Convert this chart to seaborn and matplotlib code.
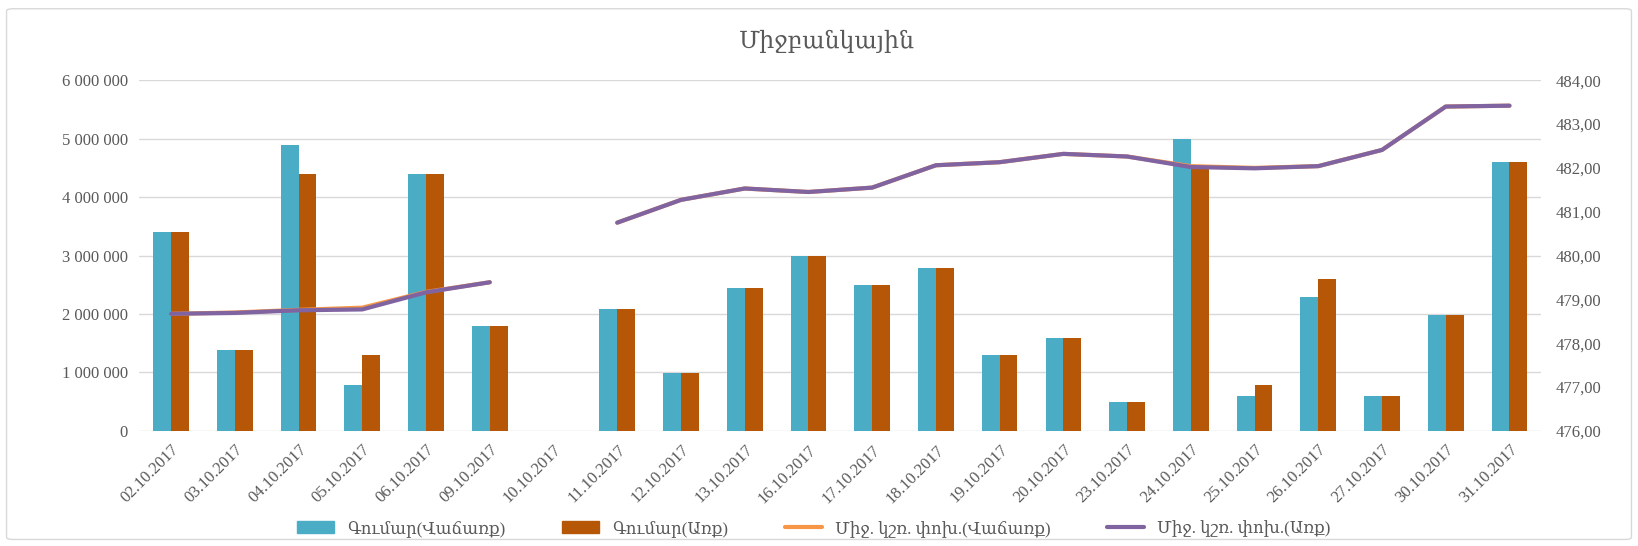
# Միջբանկային - bars (amounts) + lines (weighted avg rate)
import numpy as np
import pandas as pd
import seaborn as sns
import matplotlib.pyplot as plt
from matplotlib.patches import FancyBboxPatch, Patch
from matplotlib.lines import Line2D
from matplotlib.ticker import FuncFormatter

dates = ["02.10.2017", "03.10.2017", "04.10.2017", "05.10.2017", "06.10.2017",
         "09.10.2017", "10.10.2017", "11.10.2017", "12.10.2017", "13.10.2017",
         "16.10.2017", "17.10.2017", "18.10.2017", "19.10.2017", "20.10.2017",
         "23.10.2017", "24.10.2017", "25.10.2017", "26.10.2017", "27.10.2017",
         "30.10.2017", "31.10.2017"]

sum_sell = [3400000, 1390000, 4900000, 790000, 4400000, 1790000, np.nan, 2090000,
            990000, 2440000, 3000000, 2490000, 2790000, 1290000, 1590000, 490000,
            5000000, 590000, 2290000, 590000, 1990000, 4600000]
sum_buy = [3400000, 1390000, 4400000, 1290000, 4400000, 1790000, np.nan, 2090000,
           990000, 2440000, 3000000, 2490000, 2790000, 1290000, 1590000, 490000,
           4500000, 790000, 2590000, 590000, 1990000, 4600000]

rate_sell = [478.67, 478.70, 478.76, 478.81, 479.17, 479.39, np.nan, 480.75,
             481.27, 481.53, 481.45, 481.55, 482.06, 482.13, 482.32, 482.26,
             482.04, 482.00, 482.04, 482.41, 483.40, 483.42]
rate_buy = [478.67, 478.69, 478.75, 478.77, 479.16, 479.39, np.nan, 480.75,
            481.27, 481.53, 481.45, 481.55, 482.06, 482.13, 482.32, 482.26,
            482.02, 481.99, 482.04, 482.41, 483.40, 483.42]

names = ["Գումար(Վաճառք)", "Գումար(Առք)", "Միջ. կշռ. փոխ.(Վաճառք)", "Միջ. կշռ. փոխ.(Առք)"]
colors = ["#4BACC6", "#B65708", "#F79646", "#8064A2"]

sns.set_theme(style="white")
plt.rcParams["font.family"] = ["Liberation Serif", "DejaVu Serif", "DejaVu Sans"]

df = pd.DataFrame({"date": dates * 2,
                   "value": sum_sell + sum_buy,
                   "kind": [names[0]] * len(dates) + [names[1]] * len(dates)})

fig = plt.figure(figsize=(16.38, 5.46), dpi=100)
ax = fig.add_axes([0.085, 0.211, 0.856, 0.642])

sns.barplot(data=df, x="date", y="value", hue="kind", palette=colors[:2],
            width=0.56, gap=0, saturation=1, edgecolor="none", ax=ax, legend=False)

ax.set_ylim(0, 6000000)
ax.set_yticks(np.arange(0, 6000001, 1000000))
ax.yaxis.set_major_formatter(FuncFormatter(lambda v, p: f"{int(v):,}".replace(",", " ")))
ax.grid(axis="y", color="#D9D9D9", linewidth=1)
ax.set_axisbelow(True)
ax.set_xlabel("")
ax.set_ylabel("")
for s in ax.spines.values():
    s.set_visible(False)
ax.tick_params(axis="both", length=0, labelsize=12, colors="#595959", pad=8)
plt.setp(ax.get_xticklabels(), rotation=45, ha="right", rotation_mode="anchor")
ax.set_xlim(-0.5, len(dates) - 0.5)

ax2 = ax.twinx()
x = np.arange(len(dates))
ax2.plot(x, rate_sell, color=colors[2], linewidth=3)
ax2.plot(x, rate_buy, color=colors[3], linewidth=3)
ax2.set_ylim(476, 484)
ax2.set_yticks(np.arange(476, 485, 1))
ax2.yaxis.set_major_formatter(FuncFormatter(lambda v, p: f"{v:.2f}".replace(".", ",")))
for s in ax2.spines.values():
    s.set_visible(False)
ax2.tick_params(axis="y", length=0, labelsize=12, colors="#595959", pad=10)
ax2.grid(False)

fig.suptitle("Միջբանկային", x=0.505, y=0.945, fontsize=17, color="#595959")

handles = [Patch(color=colors[0]), Patch(color=colors[1]),
           Line2D([], [], color=colors[2], linewidth=3),
           Line2D([], [], color=colors[3], linewidth=3)]
fig.legend(handles, names, loc="center", bbox_to_anchor=(0.497, 0.032), ncol=4,
           frameon=False, fontsize=12, columnspacing=3.4, handlelength=2.2,
           labelcolor="#595959")

fig.patches.append(FancyBboxPatch((0.004, 0.012), 0.992, 0.972, transform=fig.transFigure,
                                  boxstyle="round,pad=0,rounding_size=0.004",
                                  facecolor="none", edgecolor="#D9D9D9", linewidth=1))

fig.savefig("out.png", dpi=100)
